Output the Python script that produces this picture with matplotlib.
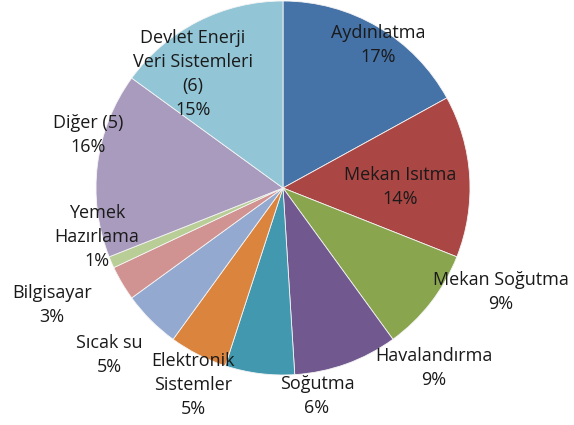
import matplotlib.pyplot as plt

# enerji tüketim dağılımı
etiketler = ["Aydınlatma", "Mekan Isıtma", "Mekan Soğutma", "Havalandırma", "Soğutma",
             "Elektronik\nSistemler", "Sıcak su", "Bilgisayar", "Yemek\nHazırlama",
             "Diğer (5)", "Devlet Enerji\nVeri Sistemleri\n(6)"]
yuzdeler = [17, 14, 9, 9, 6, 5, 5, 3, 1, 16, 15]
renkler = ["#4572A7", "#AA4643", "#89A54E", "#71588F", "#4198AF", "#DB843D",
           "#93A9CF", "#D19392", "#B9CD96", "#A99BBD", "#92C5D6"]

# etiket yerleri (piksel, sol üstten)
etiket_yerleri = [(378, 45), (400, 187), (501, 292), (434, 368), (317, 396),
                  (193, 385), (109, 355), (52, 305), (97, 237), (88, 135), (193, 74)]

fig = plt.figure(figsize=(5.74, 4.25), dpi=100)
ax = fig.add_axes([0, 0, 1, 1])
merkez = (283, 425 - 188)
ax.pie(yuzdeler, colors=renkler, startangle=90, counterclock=False,
       center=merkez, radius=187, wedgeprops=dict(linewidth=0.6, edgecolor="#f4f4f4"))
ax.set_xlim(0, 574)
ax.set_ylim(0, 425)
ax.set_aspect("equal")
ax.axis("off")

for et, y, (px, py) in zip(etiketler, yuzdeler, etiket_yerleri):
    ax.text(px, 425 - py, f"{et}\n{y}%", ha="center", va="center", fontsize=13,
            family="Open Sans", color="#1a1a1a", linespacing=1.45)

fig.savefig("out.png", dpi=100)
